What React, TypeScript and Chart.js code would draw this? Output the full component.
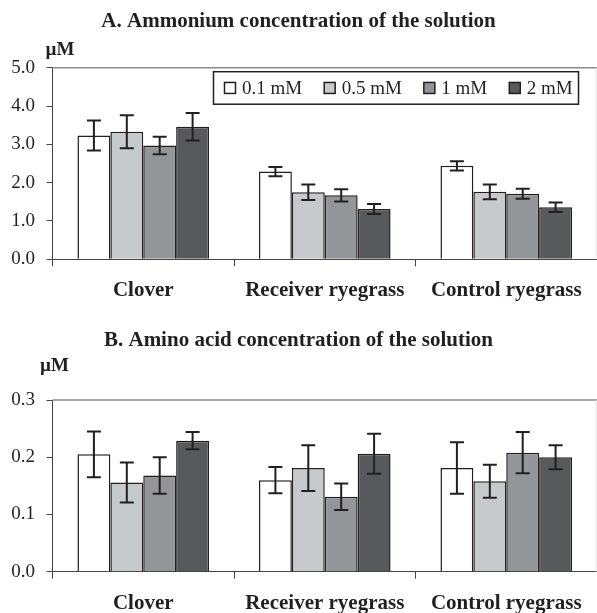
import React, { useEffect, useRef } from 'react';
import { Chart, registerables } from 'chart.js';

Chart.register(...registerables);

const FONT = "'Liberation Serif', 'Times New Roman', serif";
const INK = '#231f20';

const categories = ['Clover', 'Receiver ryegrass', 'Control ryegrass'];
const seriesLabels = ['0.1 mM', '0.5 mM', '1 mM', '2 mM'];
const seriesColors = ['#ffffff', '#c8c9cb', '#939598', '#58595b'];

// A. Ammonium (µM)
const ammonium01 = [3.23, 2.29, 2.44];
const ammonium05 = [3.33, 1.75, 1.76];
const ammonium1 = [2.97, 1.67, 1.71];
const ammonium2 = [3.46, 1.31, 1.36];
const ammoniumErr01 = [0.39, 0.12, 0.12];
const ammoniumErr05 = [0.43, 0.2, 0.19];
const ammoniumErr1 = [0.23, 0.16, 0.13];
const ammoniumErr2 = [0.36, 0.13, 0.125];
const ammoniumTicks = { min: 0, max: 5, step: 1 };

// B. Amino acid (µM)
const amino01 = [0.205, 0.16, 0.181];
const amino05 = [0.156, 0.181, 0.158];
const amino1 = [0.168, 0.131, 0.208];
const amino2 = [0.229, 0.206, 0.2];
const aminoErr01 = [0.04, 0.023, 0.045];
const aminoErr05 = [0.035, 0.04, 0.029];
const aminoErr1 = [0.032, 0.023, 0.036];
const aminoErr2 = [0.015, 0.035, 0.021];
const aminoTicks = { min: 0, max: 0.3, step: 0.1 };

type PanelProps = {
  width: number;
  height: number;
  title: string;
  titlePadTop: number;
  titlePadBottom: number;
  xAxisHeight: number;
  unitDx: number;
  unitDy: number;
  series: number[][];
  errors: number[][];
  ticks: { min: number; max: number; step: number };
  showLegend: boolean;
};

function BarPanel(p: PanelProps) {
  const ref = useRef<HTMLCanvasElement | null>(null);

  useEffect(() => {
    if (!ref.current) return;

    const errorBars = {
      id: 'errorBars',
      afterDatasetsDraw(chart: any) {
        const ctx = chart.ctx;
        const ys = chart.scales.y;
        ctx.save();
        ctx.strokeStyle = INK;
        ctx.lineWidth = 2;
        chart.data.datasets.forEach((ds: any, i: number) => {
          const meta = chart.getDatasetMeta(i);
          meta.data.forEach((el: any, j: number) => {
            const v = ds.data[j];
            const e = p.errors[i][j];
            const x = el.x;
            const yt = ys.getPixelForValue(v + e);
            const yb = ys.getPixelForValue(v - e);
            const hw = 7;
            ctx.beginPath();
            ctx.moveTo(x, yt);
            ctx.lineTo(x, yb);
            ctx.moveTo(x - hw, yt);
            ctx.lineTo(x + hw, yt);
            ctx.moveTo(x - hw, yb);
            ctx.lineTo(x + hw, yb);
            ctx.stroke();
          });
        });
        ctx.restore();
      },
    };

    const frame = {
      id: 'frame',
      beforeDatasetsDraw(chart: any) {
        const { ctx, chartArea: a } = chart;
        ctx.save();
        ctx.strokeStyle = '#8a8a8a';
        ctx.lineWidth = 1.5;
        ctx.beginPath();
        ctx.moveTo(a.left, a.top);
        ctx.lineTo(a.right, a.top);
        ctx.stroke();
        ctx.strokeStyle = '#e2e2e2';
        ctx.lineWidth = 1;
        ctx.beginPath();
        ctx.moveTo(a.right - 1, a.top);
        ctx.lineTo(a.right - 1, a.bottom);
        ctx.stroke();
        ctx.restore();
      },
    };

    const unitLabel = {
      id: 'unitLabel',
      afterDraw(chart: any) {
        const { ctx, chartArea: a } = chart;
        ctx.save();
        ctx.fillStyle = INK;
        ctx.font = `bold 19px ${FONT}`;
        ctx.textAlign = 'left';
        ctx.textBaseline = 'alphabetic';
        ctx.fillText('\u00b5M', a.left + p.unitDx, a.top + p.unitDy);
        ctx.restore();
      },
    };

    const legendBox = {
      id: 'legendBox',
      afterDraw(chart: any) {
        if (!p.showLegend) return;
        const { ctx, chartArea: a } = chart;
        const left = a.left + 161;
        const top = a.top + 4;
        const right = a.right - 18.5;
        const h = 32.5;
        ctx.save();
        ctx.fillStyle = '#ffffff';
        ctx.fillRect(left, top, right - left, h);
        ctx.strokeStyle = INK;
        ctx.lineWidth = 1.5;
        ctx.strokeRect(left, top, right - left, h);
        ctx.font = `19px ${FONT}`;
        ctx.textBaseline = 'middle';
        ctx.textAlign = 'left';
        const cy = top + h / 2;
        let x = left + 11;
        chart.data.datasets.forEach((ds: any) => {
          ctx.fillStyle = ds.backgroundColor;
          ctx.fillRect(x, cy - 5.5, 11, 11);
          ctx.strokeStyle = INK;
          ctx.lineWidth = 1.5;
          ctx.strokeRect(x, cy - 5.5, 11, 11);
          ctx.fillStyle = INK;
          const tx = x + 17.5;
          ctx.fillText(ds.label, tx, cy + 1);
          x = tx + ctx.measureText(ds.label).width + 22;
        });
        ctx.restore();
      },
    };

    const chart = new Chart(ref.current, {
      type: 'bar',
      data: {
        labels: categories,
        datasets: p.series.map((d, i) => ({
          label: seriesLabels[i],
          data: d,
          backgroundColor: seriesColors[i],
          borderColor: INK,
          borderWidth: 1.5,
          categoryPercentage: 0.725,
          barPercentage: 1.0,
        })),
      },
      options: {
        responsive: false,
        animation: false,
        devicePixelRatio: 1,
        layout: { padding: { left: 0, right: 0, top: 0, bottom: 0 } },
        plugins: {
          legend: { display: false },
          tooltip: { enabled: false },
          title: {
            display: true,
            text: p.title,
            color: INK,
            font: { family: FONT, size: 21, weight: 'bold', lineHeight: 1.2 },
            padding: { top: p.titlePadTop, bottom: p.titlePadBottom },
          },
        },
        scales: {
          x: {
            type: 'category',
            grid: {
              display: true,
              drawOnChartArea: false,
              drawTicks: true,
              tickLength: 7,
              color: '#444444',
              offset: true,
            },
            border: { display: true, color: '#444444', width: 1 },
            ticks: {
              color: INK,
              font: { family: FONT, size: 21, weight: 'bold', lineHeight: 1.2 },
              padding: 12,
              maxRotation: 0,
              autoSkip: false,
            },
            afterFit: (s: any) => {
              s.height = p.xAxisHeight;
            },
          },
          y: {
            min: p.ticks.min,
            max: p.ticks.max,
            grid: {
              display: true,
              drawOnChartArea: false,
              drawTicks: true,
              tickLength: 6,
              color: '#444444',
            },
            border: { display: true, color: '#444444', width: 1 },
            ticks: {
              stepSize: p.ticks.step,
              color: INK,
              font: { family: FONT, size: 19 },
              padding: 11.5,
              callback: (v: any) => Number(v).toFixed(1),
            },
            afterFit: (s: any) => {
              s.width = 52.5;
            },
          },
        },
      } as any,
      plugins: [frame, errorBars, unitLabel, legendBox],
    });

    return () => chart.destroy();
  }, []);

  return (
    <canvas
      ref={ref}
      width={p.width}
      height={p.height}
      style={{ display: 'block', width: p.width, height: p.height }}
    />
  );
}

export default function App() {
  return (
    <div style={{ position: 'absolute', left: 0, top: 0, width: 597, height: 613, background: '#fff' }}>
      <BarPanel
        width={597}
        height={306}
        title="A. Ammonium concentration of the solution"
        titlePadTop={8.8}
        titlePadBottom={33.7}
        xAxisHeight={46.7}
        unitDx={-7}
        unitDy={-13}
        series={[ammonium01, ammonium05, ammonium1, ammonium2]}
        errors={[ammoniumErr01, ammoniumErr05, ammoniumErr1, ammoniumErr2]}
        ticks={ammoniumTicks}
        showLegend={true}
      />
      <BarPanel
        width={597}
        height={307}
        title="B. Amino acid concentration of the solution"
        titlePadTop={21.9}
        titlePadBottom={46.9}
        xAxisHeight={41.3}
        unitDx={-12.5}
        unitDy={-29.3}
        series={[amino01, amino05, amino1, amino2]}
        errors={[aminoErr01, aminoErr05, aminoErr1, aminoErr2]}
        ticks={aminoTicks}
        showLegend={false}
      />
    </div>
  );
}
